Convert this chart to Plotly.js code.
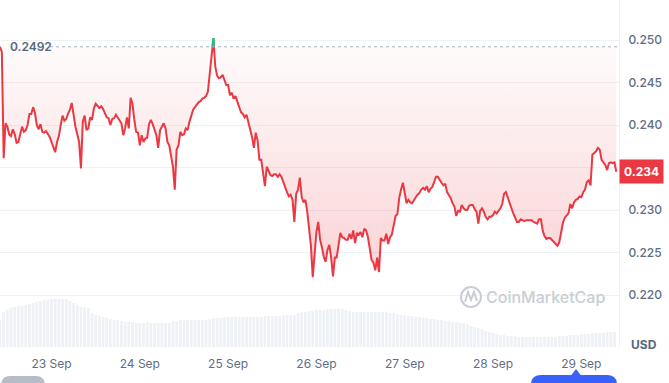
<!DOCTYPE html>
<html><head><meta charset="utf-8">
<script src="https://cdn.plot.ly/plotly-3.0.1.min.js"></script>
<style>html,body{margin:0;padding:0;background:#fff;}#chart{width:669px;height:383px;}</style>
</head><body><div id="chart"></div>
<script>
// ---- data ----
const startTime = Date.UTC(2023, 8, 22, 10, 0);   // first sample, 22 Sep 10:00
const priceStepMinutes = 30;
const prices = [
0.2492,0.2486,0.2361,0.2402,0.2398,0.2389,0.2387,0.2395,0.2389,0.2379,
0.2380,0.2389,0.2398,0.2392,0.2394,0.2400,0.2413,0.2413,0.2421,0.2414,
0.2400,0.2395,0.2401,0.2392,0.2391,0.2393,0.2389,0.2386,0.2380,0.2373,
0.2368,0.2380,0.2387,0.2400,0.2411,0.2405,0.2407,0.2413,0.2418,0.2426,
0.2409,0.2398,0.2389,0.2380,0.2349,0.2404,0.2411,0.2394,0.2396,0.2409,
0.2406,0.2419,0.2425,0.2422,0.2420,0.2422,0.2419,0.2414,0.2409,0.2408,
0.2400,0.2407,0.2408,0.2412,0.2409,0.2405,0.2402,0.2388,0.2396,0.2409,
0.2396,0.2432,0.2425,0.2406,0.2392,0.2391,0.2376,0.2388,0.2380,0.2384,
0.2385,0.2401,0.2406,0.2401,0.2394,0.2388,0.2373,0.2394,0.2398,0.2402,
0.2396,0.2380,0.2376,0.2362,0.2351,0.2324,0.2371,0.2376,0.2392,0.2388,
0.2389,0.2396,0.2394,0.2404,0.2411,0.2418,0.2421,0.2424,0.2427,0.2428,
0.2431,0.2432,0.2434,0.2439,0.2459,0.2485,0.2502,0.2469,0.2458,0.2455,
0.2456,0.2459,0.2453,0.2447,0.2447,0.2435,0.2438,0.2431,0.2434,0.2428,
0.2420,0.2415,0.2413,0.2409,0.2412,0.2404,0.2393,0.2386,0.2373,0.2391,
0.2382,0.2359,0.2359,0.2345,0.2328,0.2351,0.2345,0.2341,0.2340,0.2342,
0.2342,0.2339,0.2342,0.2339,0.2333,0.2326,0.2321,0.2316,0.2318,0.2312,
0.2286,0.2319,0.2324,0.2338,0.2315,0.2309,0.2312,0.2298,0.2276,0.2258,
0.2221,0.2251,0.2274,0.2286,0.2265,0.2256,0.2245,0.2239,0.2253,0.2259,
0.2244,0.2222,0.2244,0.2244,0.2259,0.2273,0.2268,0.2267,0.2265,0.2265,
0.2272,0.2266,0.2276,0.2261,0.2273,0.2271,0.2274,0.2268,0.2278,0.2276,
0.2268,0.2256,0.2241,0.2238,0.2229,0.2244,0.2227,0.2267,0.2264,0.2264,
0.2272,0.2260,0.2268,0.2271,0.2281,0.2293,0.2295,0.2314,0.2324,0.2332,
0.2320,0.2308,0.2312,0.2309,0.2308,0.2312,0.2315,0.2318,0.2320,0.2324,
0.2326,0.2324,0.2328,0.2321,0.2325,0.2327,0.2332,0.2339,0.2339,0.2335,
0.2332,0.2329,0.2331,0.2321,0.2318,0.2314,0.2308,0.2304,0.2293,0.2299,
0.2298,0.2306,0.2302,0.2300,0.2300,0.2305,0.2306,0.2306,0.2301,0.2298,
0.2284,0.2299,0.2302,0.2298,0.2292,0.2289,0.2292,0.2292,0.2294,0.2298,
0.2296,0.2299,0.2302,0.2307,0.2319,0.2321,0.2314,0.2309,0.2302,0.2296,
0.2291,0.2286,0.2286,0.2289,0.2288,0.2287,0.2288,0.2288,0.2288,0.2288,
0.2286,0.2285,0.2284,0.2289,0.2289,0.2276,0.2269,0.2266,0.2267,0.2267,
0.2265,0.2262,0.2260,0.2258,0.2262,0.2276,0.2285,0.2291,0.2294,0.2296,
0.2307,0.2302,0.2309,0.2312,0.2313,0.2316,0.2315,0.2321,0.2324,0.2333,
0.2335,0.2329,0.2365,0.2367,0.2369,0.2373,0.2371,0.2359,0.2356,0.2353,
0.2347,0.2355,0.2356,0.2355,0.2356,0.2345
];
const volumeStepMinutes = 60;
const volumes = [
27,35,37,39,40,41,41,42,43,44,45,46,47,47,48,48,48,48,48,46,
44,42,40,40,39,34,32,31,30,29,28,27,27,26,25,25,25,24,24,24,
25,24,24,24,24,24,24,26,26,27,27,27,27,27,27,27,27,28,29,29,
29,30,30,30,30,30,30,30,30,30,30,30,31,31,31,31,31,32,32,32,
32,34,35,35,36,36,37,37,37,38,38,38,38,38,37,36,35,35,35,35,
35,35,35,35,35,35,34,34,33,32,32,31,31,30,30,29,29,28,28,27,
27,26,26,25,25,24,24,23,21,20,19,18,16,15,14,13,12,12,11,11,
11,10,10,10,10,10,10,10,10,10,10,10,11,11,11,12,12,12,13,13,
13,14,14,14,14,15,15,15
];
const openPrice = 0.2492;
const yTickVals = [0.220, 0.225, 0.230, 0.235, 0.240, 0.245, 0.250];
const yTickText = ['0.220', '0.225', '0.230', '', '0.240', '0.245', '0.250'];
const xTickStart = '2023-09-23';
const xRange = ['2023-09-22 10:00', '2023-09-29 10:14'];

// ---- helpers ----
function fmt(ms){ return new Date(ms).toISOString().slice(0,19).replace('T',' '); }
const priceTimes = prices.map((_, i) => fmt(startTime + i*priceStepMinutes*60000));
const volTimes = volumes.map((_, i) => fmt(startTime + i*volumeStepMinutes*60000));
const baseline = prices.map(() => openPrice);

// green segments where price is above the opening price
const gx = [], gy = [];
for (let i = 0; i < prices.length - 1; i++) {
  const a = prices[i], b = prices[i+1];
  const ta = startTime + i*priceStepMinutes*60000, tb = ta + priceStepMinutes*60000;
  if (a > openPrice || b > openPrice) {
    let t0 = ta, v0 = a, t1 = tb, v1 = b;
    if (a <= openPrice) { const f = (openPrice - a)/(b - a); t0 = ta + f*(tb-ta); v0 = openPrice; }
    if (b <= openPrice) { const f = (openPrice - a)/(b - a); t1 = ta + f*(tb-ta); v1 = openPrice; }
    gx.push(fmt(t0), fmt(t1), null); gy.push(v0, v1, null);
  }
}

const PW = 619, PH = 347;
const PX = v => v / PW, PY = v => (PH - v) / PH;
const minPrice = Math.min(...prices);
const lastPrice = prices[prices.length - 1];
const maxVol = Math.max(...volumes);

const gray = '#616e85';
const traces = [
  {type:'bar', x:volTimes, y:volumes, yaxis:'y2', marker:{color:'#eef1f5', line:{width:0}}, hoverinfo:'skip'},
  {type:'scatter', mode:'lines', x:priceTimes, y:baseline, line:{width:0, color:'rgba(0,0,0,0)'}, hoverinfo:'skip'},
  {type:'scatter', mode:'lines', x:priceTimes, y:prices, line:{color:'#ea3943', width:2},
   fill:'tonexty',
   fillgradient:{type:'vertical', start:minPrice, stop:openPrice,
     colorscale:[[0,'rgba(234,57,67,0.22)'],[1,'rgba(234,57,67,0.02)']]}},
  {type:'scatter', mode:'lines', x:gx, y:gy, line:{color:'#16c784', width:2}, connectgaps:false, hoverinfo:'skip'}
];

const layout = {
  width:669, height:383,
  margin:{l:0, r:50, t:0, b:36},
  paper_bgcolor:'#ffffff', plot_bgcolor:'#ffffff',
  showlegend:false,
  bargap:0.25,
  xaxis:{type:'date', range:xRange, tick0:xTickStart, dtick:86400000, tickformat:'%-d %b',
    showgrid:false, zeroline:false, showline:false, ticks:'', ticklabelstandoff:8,
    tickfont:{family:'Inter, Roboto, sans-serif', size:12, color:gray}},
  yaxis:{side:'right', range:[0.213882, 0.254706], tickvals:yTickVals, ticktext:yTickText,
    gridcolor:'#eff2f5', gridwidth:1, zeroline:false, showline:true, linecolor:'#eff2f5', linewidth:1,
    ticks:'', ticklabelstandoff:6,
    tickfont:{family:'Inter, Roboto, sans-serif', size:12, color:gray, weight:500}},
  yaxis2:{overlaying:'y', range:[0, maxVol*PH/48], visible:false, fixedrange:true},
  shapes:[
    {type:'line', xref:'paper', yref:'y', x0:PX(50), x1:1, y0:openPrice, y1:openPrice,
     line:{color:'#a6b0c3', width:1, dash:'dot'}},
    {type:'circle', xref:'paper', yref:'paper', x0:PX(461), x1:PX(481), y0:PY(307), y1:PY(287),
     line:{color:'#c9ced6', width:2}},
    {type:'path', xref:'paper', yref:'paper',
     path:`M ${PX(465)} ${PY(302)} L ${PX(468)} ${PY(292)} L ${PX(471)} ${PY(300)} L ${PX(474)} ${PY(292)} L ${PX(477)} ${PY(301)}`,
     line:{color:'#c9ced6', width:2}},
    {type:'path', xref:'paper', yref:'paper', fillcolor:'#3861fb', line:{width:0},
     path:`M ${PX(541)} ${PY(375)} L ${PX(607)} ${PY(375)} Q ${PX(617)} ${PY(375)} ${PX(617)} ${PY(385)} L ${PX(617)} ${PY(395)} L ${PX(531)} ${PY(395)} L ${PX(531)} ${PY(385)} Q ${PX(531)} ${PY(375)} ${PX(541)} ${PY(375)} Z`},
    {type:'path', xref:'paper', yref:'paper', fillcolor:'#3861fb', line:{width:0},
     path:`M ${PX(571)} ${PY(375.5)} L ${PX(576)} ${PY(369)} L ${PX(581)} ${PY(375.5)} Z`},
    {type:'path', xref:'paper', yref:'paper', fillcolor:'#b7bdc7', line:{width:0},
     path:`M ${PX(10)} ${PY(376)} L ${PX(36)} ${PY(376)} Q ${PX(45)} ${PY(376)} ${PX(45)} ${PY(386)} L ${PX(45)} ${PY(395)} L ${PX(1)} ${PY(395)} L ${PX(1)} ${PY(386)} Q ${PX(1)} ${PY(376)} ${PX(10)} ${PY(376)} Z`}
  ],
  annotations:[
    {xref:'paper', yref:'y', x:PX(8), y:openPrice, xanchor:'left', yanchor:'middle', showarrow:false,
     text:openPrice.toFixed(4), font:{family:'Inter, Roboto, sans-serif', size:12, color:'#58667e', weight:600}},
    {xref:'paper', yref:'y', x:1, y:lastPrice, xanchor:'left', yanchor:'middle', showarrow:false,
     text:lastPrice.toFixed(3), bgcolor:'#ea3943', borderpad:4,
     font:{family:'Inter, Roboto, sans-serif', size:12, color:'#ffffff', weight:700}},
    {xref:'paper', yref:'paper', x:PX(545), y:PY(297), xanchor:'center', yanchor:'middle', showarrow:false,
     text:'CoinMarketCap', font:{family:'Inter, Roboto, sans-serif', size:16, color:'#c9ced6', weight:500}},
    {xref:'paper', yref:'paper', x:PX(644), y:PY(344), xanchor:'center', yanchor:'middle', showarrow:false,
     text:'USD', font:{family:'Inter, Roboto, sans-serif', size:12, color:'#58667e', weight:700}}
  ]
};

Plotly.newPlot('chart', traces, layout, {displayModeBar:false, staticPlot:true});
</script>
</body></html>
